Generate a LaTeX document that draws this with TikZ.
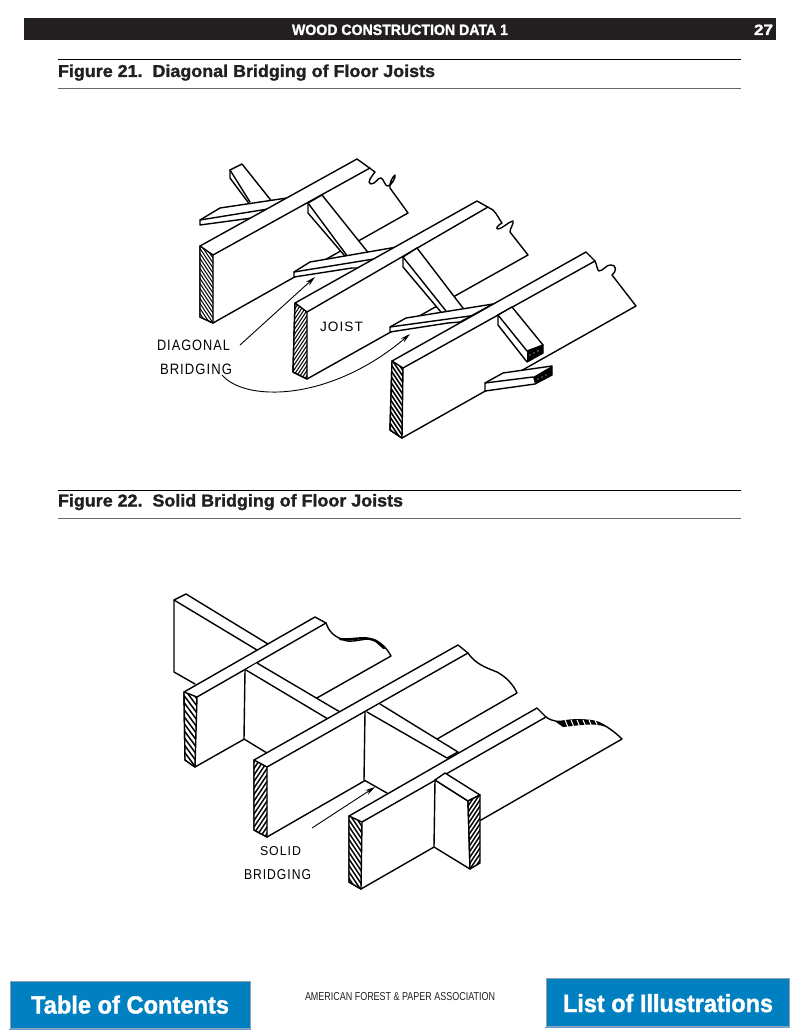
\documentclass[tikz,border=0pt]{standalone}
\usepackage{graphicx}
\usepackage{fontspec}
\setmainfont{Liberation Sans}[BoldFeatures={FakeBold=1.4}]
\newfontfamily\handfont[LetterSpace=8]{Liberation Sans}
\usetikzlibrary{arrows.meta}
\definecolor{barblack}{HTML}{231F20}
\definecolor{btnblue}{HTML}{0080C0}
\definecolor{btnedge}{HTML}{8FA3AE}
\newcommand{\fitbox}[3]{\resizebox{#1pt}{#2pt}{#3}}
% path, x0, y0, count, slope, spacing, background, stroke
\newcommand{\grain}[8]{%
  \begin{scope}
    \clip #1;
    \fill[#7] #1;
    \foreach \i in {0,...,#4}
      \draw[#8,line width=1.5pt] ({#2-4},{#3+\i*#6}) -- ({#2+24},{#3+\i*#6+#5});
  \end{scope}
  \draw[wood] #1;}
\tikzset{
  wood/.style={draw=black,line width=1.4pt,line join=round,line cap=round},
  part/.style={wood,fill=white},
  lead/.style={draw=black,line width=0.9pt,-{Stealth[length=10pt,width=5pt]}},
  label/.style={anchor=base west,inner sep=0pt,outer sep=0pt},
  rulefig/.style={draw=black,line width=0.9pt},
  button/.style={fill=btnblue,draw=btnedge,line width=1pt},
}
\begin{document}
\begin{tikzpicture}[x=1pt,y=-1pt]
\useasboundingbox (0,0) rectangle (800,1035);
\fill[white] (0,0) rectangle (800,1035);
% header
\fill[barblack] (24,18) rectangle (776,40);
\node[label,text=white] (head) at (292,35) {\fitbox{216}{10.5}{\bfseries WOOD CONSTRUCTION DATA 1}};
\node[label,text=white] (page) at (754,35) {\fitbox{19}{10.5}{\bfseries 27}};
% Figure 21 heading
\draw[rulefig] (58,59.5) -- (741,59.5);
\draw[rulefig,black!60] (58,88.5) -- (741,88.5);
\node[label,text=barblack] (t21) at (58,77) {\fitbox{377}{12.5}{\bfseries Figure 21.\ \ Diagonal Bridging of Floor Joists}};
% Figure 22 heading
\draw[rulefig] (58,490.5) -- (741,490.5);
\draw[rulefig,black!60] (58,518.5) -- (741,518.5);
\node[label,text=barblack] (t22) at (58,506.5) {\fitbox{345}{12.5}{\bfseries Figure 22.\ \ Solid Bridging of Floor Joists}};

% ===== Figure 21 =====
% cross piece 1 and bridging 1
\draw[part] (230,170) -- (242,164) -- (285,218) -- (265,225) -- (230,178) -- cycle;
\draw[wood] (230,170) -- (250,202);
\draw[part] (200,220) -- (220,208) -- (287,198) -- (268,209) -- (252,218) -- (200,225) -- cycle;
\draw[wood] (200,220) -- (268,209);
% joist 1
\draw[part] (200,246) -- (357,159) -- (375,172)
  .. controls (372,176) and (366,183) .. (371,184)
  .. controls (376,184) and (378,177) .. (381,178)
  .. controls (384,179) and (385,187) .. (388,186)
  .. controls (392,185) and (396,177) .. (395,175)
  .. controls (393,176) and (389,183) .. (390,188)
  -- (408,213) -- (213,323) -- (200,317) -- cycle;
\draw[wood] (213,255) -- (370,168);
\grain{(200,246) -- (213,255) -- (213,323) -- (200,317) -- cycle}{200}{215}{22}{42}{5}{black}{white}
% cross piece 2 and bridging 2
\draw[part] (308,203) -- (322,195) -- (370,255) -- (350,262) -- (308,213) -- cycle;
\draw[wood] (308,203) -- (348,257);
\draw[part] (294,272) -- (310,262) -- (397,247) -- (362,268) -- (352,268) -- (294,277) -- cycle;
\draw[wood] (294,272) -- (380,258);
% joist 2
\draw[part] (295,303) -- (477,201) -- (493,210)
  .. controls (497,214) and (499,219) .. (502,223)
  .. controls (498,225) and (495,229) .. (498,229)
  .. controls (502,229) and (508,222) .. (513,221)
  .. controls (514,224) and (510,228) .. (510,232)
  -- (528,255) -- (307,379) -- (293,372) -- cycle;
\draw[wood] (307,312) -- (488,207);
\grain{(295,303) -- (307,312) -- (307,379) -- (293,372) -- cycle}{293}{300}{22}{-42}{5}{black}{white}
% cross piece 3 and bridging 3
\draw[part] (403,257) -- (417,248) -- (466,312) -- (446,318) -- (403,267) -- cycle;
\draw[wood] (403,257) -- (446,311);
\draw[part] (390,327) -- (406,318) -- (493,304) -- (460,322) -- (448,323) -- (390,332) -- cycle;
\draw[wood] (390,327) -- (477,315);
% joist 3
\draw[part] (392,361) -- (586,252) -- (595,261)
  .. controls (597,265) and (597,270) .. (599,271)
  .. controls (603,271) and (606,265) .. (610,265)
  .. controls (618,265) and (616,272) .. (612,275)
  -- (636,306) -- (402,438) -- (390,430) -- cycle;
\draw[wood] (403,368) -- (595,261);
\grain{(392,361) -- (403,368) -- (402,438) -- (390,430) -- cycle}{390}{330}{20}{42}{6}{black}{white}
% cross piece 4 (projecting)
\draw[part] (498,315) -- (512,307) -- (543,345) -- (543,353) -- (527,362) -- (498,325) -- cycle;
\draw[wood] (498,315) -- (527,351) -- (543,345);
\fill[black] (527,351) -- (543,345) -- (543,353) -- (527,362) -- cycle;
\foreach \k in {0,1,2} \fill[white] ({530+\k*4},{355-\k*2}) circle (0.7pt);
% bridging 4
\draw[part] (485,383) -- (503,373) -- (552,366) -- (552,375) -- (535,384) -- (485,391) -- cycle;
\draw[wood] (485,383) -- (533,377);
\fill[black] (533,377) -- (552,366) -- (552,375) -- (535,384) -- cycle;
\foreach \k in {0,1,2} \fill[white] ({538+\k*4},{379-\k*2}) circle (0.7pt);
% labels 21
\node[label] (diag) at (157,350) {\fitbox{73}{10.5}{\handfont DIAGONAL}};
\node[label] (brid) at (160,374) {\fitbox{72}{10.5}{\handfont BRIDGING}};
\node[label] (joist) at (320,331) {\fitbox{43}{9.5}{\handfont JOIST}};
\coordinate (a1s) at (240,345);
\coordinate (a1e) at (315,277);
\coordinate (a2s) at (222,375);
\coordinate (a2e) at (410,334);
\draw[lead] (a1s) -- (a1e);
\draw[lead] (a2s) .. controls (245,402) and (330,402) .. (a2e);

% ===== Figure 22 =====
% back joist
\fill[white] (174,600) -- (186,594) -- (268,644) -- (257,650) -- (246,700) -- (195,684) -- (174,672) -- cycle;
\draw[wood] (257,650) -- (174,600) -- (186,594) -- (268,644);
\draw[wood] (174,600) -- (174,672) -- (195,684);
% joist 1
\draw[part] (184,692) -- (315,617) -- (326,623)
  .. controls (329,631) and (333,637) .. (347,641)
  .. controls (358,642) and (366,637) .. (375,640)
  .. controls (383,644) and (388,650) .. (391,656)
  -- (195,767) -- (185,760) -- cycle;
\draw[wood] (197,697) -- (326,623);
\draw[line width=2.4pt,line cap=round] (340,639) .. controls (352,641) and (364,635) .. (376,641) -- (384,648);
\grain{(184,692) -- (197,697) -- (195,767) -- (185,760) -- cycle}{184}{655}{16}{38}{7}{white}{black}
% solid bridging 1
\draw[part,draw=none] (244,670) -- (328,719) -- (340,745) -- (267,753) -- (244,739) -- cycle;
\draw[wood] (245,670) -- (244,739) -- (267,753);
% cross band 1
\draw[part] (257,663) -- (340,712) -- (328,719) -- (246,670);
% joist 2
\draw[part] (254,760) -- (458,645) -- (468,653)
  .. controls (475,664) and (487,668) .. (497,672)
  .. controls (506,677) and (513,684) .. (517,693)
  -- (267,837) -- (254,830) -- cycle;
\draw[wood] (267,767) -- (468,653);
\grain{(254,760) -- (267,767) -- (267,837) -- (254,830) -- cycle}{254}{768}{16}{-42}{6.5}{white}{black}
% solid bridging 2
\draw[part,draw=none] (365,712) -- (447,758) -- (460,775) -- (387,793) -- (364,780) -- cycle;
\draw[wood] (365,712) -- (364,780) -- (387,793);
% cross band 2
\draw[part] (380,704) -- (458,752) -- (447,758) -- (367,712);
% joist 3
\draw[part] (349,816) -- (537,708) -- (546,717)
  .. controls (553,722) and (560,722) .. (566,721)
  .. controls (578,720) and (592,719) .. (600,723)
  .. controls (608,727) and (616,733) .. (622,739)
  -- (361,889) -- (349,882) -- cycle;
\draw[wood] (362,822) -- (546,717);
\fill[black] (556,722) .. controls (570,718) and (592,717) .. (606,727)
  .. controls (594,722) and (575,726) .. (563,727) -- cycle;
\foreach \k in {0,...,5} \draw[white,line width=1pt] ({565+\k*6},720) -- ({568+\k*6},727);
\grain{(349,816) -- (362,822) -- (361,889) -- (349,882) -- cycle}{349}{775}{18}{42}{6.5}{white}{black}
% solid bridging 3 (front block)
\draw[part] (435,780) -- (468,801) -- (470,869) -- (434,847) -- cycle;
\draw[part] (435,780) -- (445,773) -- (480,795) -- (468,801) -- cycle;
\grain{(468,801) -- (480,795) -- (480,863) -- (470,869) -- cycle}{468}{800}{16}{-42}{6}{white}{black}
% labels 22
\node[label] (solid) at (260,855) {\fitbox{41}{9}{\handfont SOLID}};
\node[label] (brid2) at (244,879) {\fitbox{67}{10}{\handfont BRIDGING}};
\coordinate (a3s) at (312,828);
\coordinate (a3e) at (375,787);
\draw[lead] (a3s) -- (a3e);

% ===== Footer =====
\draw[button] (10,981) rectangle (250,1028);
\draw[cyan!50!blue!60,line width=0.7pt] (9,1029.5) -- (251,1029.5);
\node[label,text=white] (toc) at (31,1013.5) {\fitbox{198}{18}{\bfseries Table of Contents}};
\draw[button] (546,978) rectangle (789,1026);
\draw[cyan!50!blue!60,line width=0.7pt] (545,1027.5) -- (790,1027.5);
\node[label,text=white] (loi) at (563,1012) {\fitbox{210}{18}{\bfseries List of Illustrations}};
\node[label,text=barblack] (afpa) at (305,1000) {\fitbox{190}{8}{AMERICAN FOREST \& PAPER ASSOCIATION}};
\end{tikzpicture}
\end{document}
